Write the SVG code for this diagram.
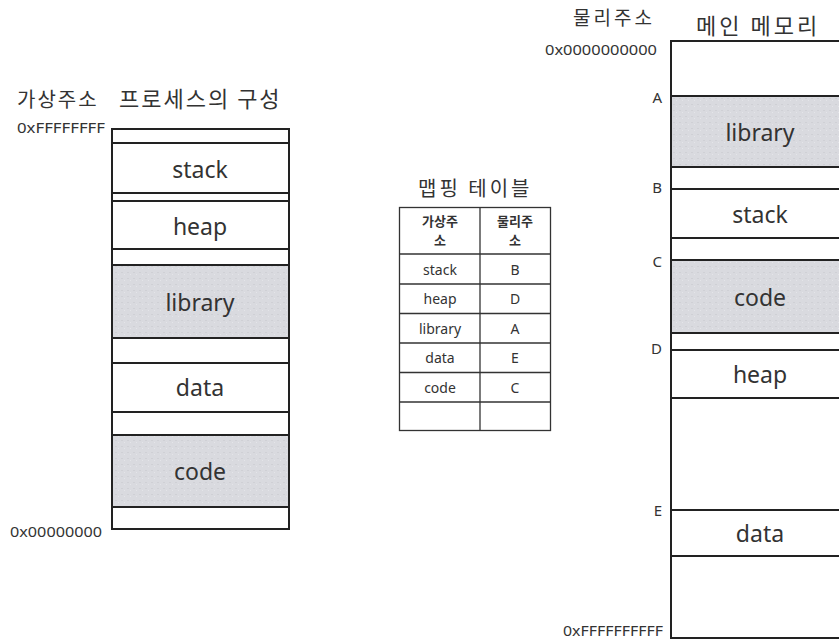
<svg xmlns="http://www.w3.org/2000/svg" width="839" height="641" viewBox="0 0 839 641">
<defs>
<pattern id="tex" width="6" height="6" patternUnits="userSpaceOnUse">
<rect width="6" height="6" fill="#d9dadf"/>
<rect x="1" y="2" width="2" height="1" fill="#cfd0d5"/>
<rect x="4" y="4" width="1" height="1" fill="#e4e5e9"/>
</pattern>
<style>
text{font-family:"Noto Sans","Noto Sans CJK KR",sans-serif;fill:#333}
.ko{font-family:"Noto Sans CJK KR","Noto Sans",sans-serif}
.big{font-size:23px;text-anchor:middle;dominant-baseline:central}
.addr{font-size:15px}
.lbl{font-size:15px;text-anchor:end}
.tb{font-size:14px;text-anchor:middle;dominant-baseline:central}
.th{font-size:13px;font-weight:bold;text-anchor:middle;dominant-baseline:central}
.seg{fill:#fff;stroke:#222;stroke-width:2}
.gray{fill:url(#tex);stroke:#222;stroke-width:2}
.cell{fill:#fff;stroke:#333;stroke-width:1.3}
.tl{stroke:#333;stroke-width:1.3}
</style>
</defs>
<rect width="839" height="641" fill="#fff"/>

<g id="left-titles">
<text class="ko" x="17" y="107" font-size="20" letter-spacing="2">가상주소</text>
<text class="ko" x="119" y="107" font-size="22" letter-spacing="2">프로세스의 구성</text>
<text class="addr" x="17" y="133" textLength="88" lengthAdjust="spacingAndGlyphs">0xFFFFFFFF</text>
<text class="addr" x="10" y="537" textLength="92" lengthAdjust="spacingAndGlyphs">0x00000000</text>
</g>

<g id="virtual-memory">
<g id="v-gap1"><rect class="seg" x="112" y="129" width="177" height="14"/></g>
<g id="v-stack"><rect class="seg" x="112" y="143" width="177" height="50"/><text class="big" x="200" y="169">stack</text></g>
<g id="v-gap2"><rect class="seg" x="112" y="193" width="177" height="8"/></g>
<g id="v-heap"><rect class="seg" x="112" y="201" width="177" height="48"/><text class="big" x="200" y="226">heap</text></g>
<g id="v-gap3"><rect class="seg" x="112" y="249" width="177" height="16"/></g>
<g id="v-library"><rect class="gray" x="112" y="265" width="177" height="73"/><text class="big" x="200" y="302">library</text></g>
<g id="v-gap4"><rect class="seg" x="112" y="338" width="177" height="25"/></g>
<g id="v-data"><rect class="seg" x="112" y="363" width="177" height="49"/><text class="big" x="200" y="387">data</text></g>
<g id="v-gap5"><rect class="seg" x="112" y="412" width="177" height="23"/></g>
<g id="v-code"><rect class="gray" x="112" y="435" width="177" height="72"/><text class="big" x="200" y="471">code</text></g>
<g id="v-gap6"><rect class="seg" x="112" y="507" width="177" height="22"/></g>
</g>

<g id="mapping-table">
<text class="ko" x="418" y="196" font-size="20" letter-spacing="3">맵핑 테이블</text>
<rect class="cell" x="399.5" y="207.5" width="151" height="223"/>
<line class="tl" x1="480" y1="207.5" x2="480" y2="430.5"/>
<line class="tl" x1="399.5" y1="254" x2="550.5" y2="254"/>
<line class="tl" x1="399.5" y1="284" x2="550.5" y2="284"/>
<line class="tl" x1="399.5" y1="313.5" x2="550.5" y2="313.5"/>
<line class="tl" x1="399.5" y1="343" x2="550.5" y2="343"/>
<line class="tl" x1="399.5" y1="372.5" x2="550.5" y2="372.5"/>
<line class="tl" x1="399.5" y1="402" x2="550.5" y2="402"/>
<text class="th ko" x="440" y="220">가상주</text>
<text class="th ko" x="440" y="239.5">소</text>
<text class="th ko" x="515" y="220">물리주</text>
<text class="th ko" x="515" y="239.5">소</text>
<text class="tb" x="440" y="269">stack</text><text class="tb" x="515" y="269">B</text>
<text class="tb" x="440" y="298.5">heap</text><text class="tb" x="515" y="298.5">D</text>
<text class="tb" x="440" y="328">library</text><text class="tb" x="515" y="328">A</text>
<text class="tb" x="440" y="357.5">data</text><text class="tb" x="515" y="357.5">E</text>
<text class="tb" x="440" y="387">code</text><text class="tb" x="515" y="387">C</text>
</g>

<g id="right-titles">
<text class="ko" x="573" y="25" font-size="19" letter-spacing="3">물리주소</text>
<text class="ko" x="696" y="34" font-size="22" letter-spacing="3">메인 메모리</text>
<text class="addr" x="545" y="55" textLength="112" lengthAdjust="spacingAndGlyphs">0x0000000000</text>
<text class="addr" x="563" y="636" textLength="100" lengthAdjust="spacingAndGlyphs">0xFFFFFFFFFF</text>
<text class="lbl" x="662" y="103">A</text>
<text class="lbl" x="662" y="193">B</text>
<text class="lbl" x="662" y="267">C</text>
<text class="lbl" x="662" y="354">D</text>
<text class="lbl" x="662" y="516">E</text>
</g>

<g id="physical-memory">
<g id="p-free1"><rect class="seg" x="671" y="41" width="180" height="55"/></g>
<g id="p-library"><rect class="gray" x="671" y="96" width="180" height="71"/><text class="big" x="760" y="132">library</text></g>
<g id="p-free2"><rect class="seg" x="671" y="167" width="180" height="22"/></g>
<g id="p-stack"><rect class="seg" x="671" y="189" width="180" height="49"/><text class="big" x="760" y="214">stack</text></g>
<g id="p-free3"><rect class="seg" x="671" y="238" width="180" height="22"/></g>
<g id="p-code"><rect class="gray" x="671" y="260" width="180" height="73"/><text class="big" x="760" y="297">code</text></g>
<g id="p-free4"><rect class="seg" x="671" y="333" width="180" height="17"/></g>
<g id="p-heap"><rect class="seg" x="671" y="350" width="180" height="48"/><text class="big" x="760" y="374">heap</text></g>
<g id="p-free5"><rect class="seg" x="671" y="398" width="180" height="112"/></g>
<g id="p-data"><rect class="seg" x="671" y="510" width="180" height="46"/><text class="big" x="760" y="533">data</text></g>
<g id="p-free6"><rect class="seg" x="671" y="556" width="180" height="82"/></g>
</g>
</svg>
